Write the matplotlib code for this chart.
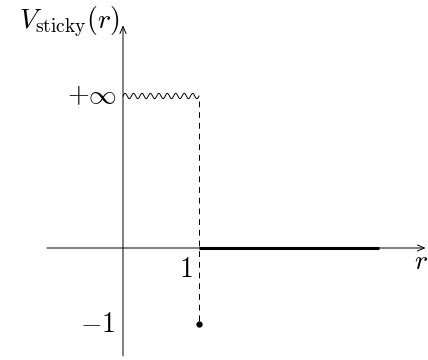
import numpy as np
import matplotlib
matplotlib.use("Agg")
import matplotlib.pyplot as plt

plt.rcParams['mathtext.fontset'] = 'cm'
plt.rcParams['font.family'] = 'serif'
plt.rcParams['font.serif'] = ['DejaVu Serif']

# data (diagram coordinates)
r_wall = 1.0        # position of the hard wall
y_inf = 2.0         # where "+infinity" sits on the axis
y_well = -1.0       # depth of the sticky point
r_flat_end = 3.37   # end of the zero part of the potential
n_waves = 9

fig = plt.figure(figsize=(4.28, 3.6), dpi=100)
ax = fig.add_axes([0, 0, 1, 1])
ax.set_xlim(-123/76, (428-123)/76)
ax.set_ylim((248-360)/76, 248/76)
ax.axis('off')

lw = 0.7
# axes with arrows
ax.annotate('', xy=(3.98, 0), xytext=(-1.0, 0),
            arrowprops=dict(arrowstyle='->,head_length=0.5,head_width=0.22',
                            lw=lw, color='black', shrinkA=0, shrinkB=0))
ax.annotate('', xy=(0, 2.93), xytext=(0, -1.42),
            arrowprops=dict(arrowstyle='->,head_length=0.5,head_width=0.22',
                            lw=lw, color='black', shrinkA=0, shrinkB=0))

# wavy "infinite" part
xs = np.linspace(0, r_wall, 400)
ys = y_inf + 0.035 * np.sin(2 * np.pi * n_waves * xs)
ax.plot(xs, ys, color='black', lw=lw)

# dashed wall
ax.plot([r_wall, r_wall], [y_inf - 0.06, y_well], color='black', lw=lw,
        dashes=(6, 5))
# sticky point
ax.plot([r_wall], [y_well], 'o', color='black', ms=3.5)
# zero part
ax.plot([r_wall, r_flat_end], [0, 0], color='black', lw=2.2,
        solid_capstyle='butt')

fs = 20
ax.text(-0.08, y_inf, r'$+\infty$', ha='right', va='center', fontsize=fs)
ax.text(-0.1, y_well, r'$-1$', ha='right', va='center', fontsize=fs)
ax.text(r_wall - 0.08, -0.1, r'$1$', ha='right', va='top', fontsize=fs)
ax.text(3.92, 0.0, r'$r$', ha='center', va='top', fontsize=fs)
ax.text(-0.04, 2.98, r'$V_{\mathrm{sticky}}(r)$', ha='right', va='center',
        fontsize=fs)

fig.savefig('out.png', dpi=100)
